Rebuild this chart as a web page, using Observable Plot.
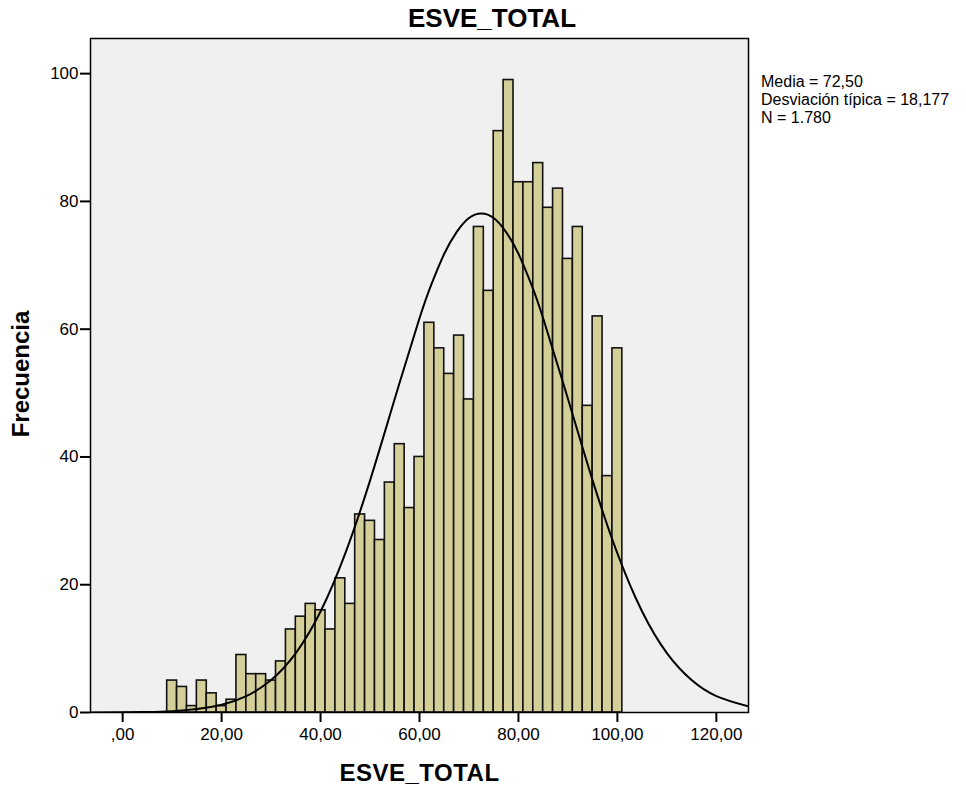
<!DOCTYPE html>
<html><head><meta charset="utf-8">
<script src="https://cdn.jsdelivr.net/npm/d3@7"></script>
<script src="https://cdn.jsdelivr.net/npm/@observablehq/plot@0.6"></script>
<style>body{margin:0;background:#fff} svg{font-family:"Liberation Sans",Arial,sans-serif}</style>
</head><body><div id="chart"></div>
<script>
// Histogram bins (start of each bin, width 2)
const binWidth = 2;
const binStarts = [9,11,13,15,17,19,21,23,25,27,29,31,33,35,37,39,41,43,45,47,49,51,53,55,57,59,61,63,65,67,69,71,73,75,77,79,81,83,85,87,89,91,93,95,97,99];
const frequencies = [5,4,1,5,3,1,2,9,6,6,5,8,13,15,17,16,13,21,17,31,30,27,36,42,32,40,61,57,53,59,49,76,66,91,99,83,83,86,79,82,71,76,48,62,37,57];
// Normal curve
const curveX = [-6.5,0,5,10,15,20,25,30,35,40,45,50,55,60,62.5,65,67.5,70,72.5,75,77.5,80,82.5,85,90,95,100,105,110,115,120,126.5];
const curveY = [0.01,0.03,0.08,0.21,0.53,1.21,2.57,5.08,9.3,15.8,24.9,36.3,49.1,61.7,67.2,71.8,75.2,77.4,78.1,77.4,75.2,71.8,67.2,61.7,49.1,36.3,24.9,15.8,9.3,5.08,2.57,0.95];
const xTicks = [0,20,40,60,80,100,120];
const xTickLabels = [",00","20,00","40,00","60,00","80,00","100,00","120,00"];
const yTicks = [0,20,40,60,80,100];
const title = "ESVE_TOTAL";
const xLabel = "ESVE_TOTAL";
const yLabel = "Frecuencia";
const legendLines = ["Media = 72,50","Desviación típica = 18,177","N = 1.780"];

const rows = binStarts.map((s,i)=>({x1:s, x2:s+binWidth, y:frequencies[i]}));
const curve = curveX.map((x,i)=>({x, y:curveY[i]}));

const chart = Plot.plot({
  width:966, height:787,
  marginLeft:90, marginRight:218, marginTop:38, marginBottom:75,
  x:{domain:[-6.5,126.5]},
  y:{domain:[0,105.5]},
  style:{fontFamily:"Liberation Sans, Arial, sans-serif", fontSize:"17px", color:"#000", background:"#fff"},
  marks:[
    Plot.frame({fill:"#f0f0f0"}),
    Plot.rectY(rows,{x1:"x1",x2:"x2",y:"y",fill:"#d4cf99",stroke:"#111",strokeWidth:1.6}),
    Plot.line(curve,{x:"x",y:"y",curve:"natural",stroke:"#000",strokeWidth:2,clip:true}),
    Plot.frame({stroke:"#000",strokeWidth:1.5}),
    Plot.axisX({ticks:xTicks, tickFormat:d=>xTickLabels[xTicks.indexOf(d)], tickSize:10, tickPadding:5, fontSize:17, label:null, strokeWidth:2}),
    Plot.axisY({ticks:yTicks, tickSize:10, tickPadding:2, fontSize:17, label:null, strokeWidth:2})
  ]
});
document.getElementById("chart").appendChild(chart);
const svg = d3.select(chart);
svg.append("text").attr("x",492).attr("y",27).attr("text-anchor","middle")
  .attr("font-size",26).attr("font-weight","bold").attr("fill","#000").text(title);
svg.append("text").attr("x",419.5).attr("y",781).attr("text-anchor","middle")
  .attr("font-size",24).attr("letter-spacing",0.5).attr("font-weight","bold").attr("fill","#000").text(xLabel);
svg.append("text").attr("transform","translate(29,374) rotate(-90)").attr("text-anchor","middle")
  .attr("font-size",24).attr("font-weight","bold").attr("fill","#000").text(yLabel);
legendLines.forEach((t,i)=>{
  svg.append("text").attr("x",761).attr("y",87+i*18).attr("text-anchor","start")
    .attr("font-size",16).attr("fill","#000").text(t);
});
</script></body></html>
